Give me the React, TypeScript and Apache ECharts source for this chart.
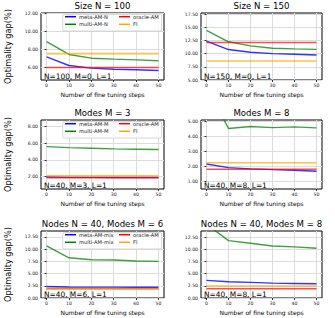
import React, { useEffect, useRef } from "react";
import * as echarts from "echarts";

const STEPS = [0, 10, 20, 30, 40, 50];
const X_TICKS = [0, 10, 20, 30, 40, 50];

// Panel 1: Size N = 100
const P1_META = [7.14, 6.18, 5.89, 5.76, 5.7, 5.63];
const P1_MULTI = [8.83, 7.4, 6.99, 6.88, 6.8, 6.7];
const P1_ORACLE = [5.95, 5.95, 5.95, 5.95, 5.95, 5.95];
const P1_FI = [7.5, 7.5, 7.5, 7.5, 7.5, 7.5];
const P1_YTICKS = [6, 8, 10, 12];

// Panel 2: Size N = 150
const P2_META = [12.37, 10.77, 10.26, 10.0, 9.87, 9.74];
const P2_MULTI = [14.42, 12.24, 11.47, 11.03, 10.9, 10.8];
const P2_ORACLE = [12.1, 12.1, 12.1, 12.1, 12.1, 12.1];
const P2_FI = [8.59, 8.59, 8.59, 8.59, 8.59, 8.59];
const P2_YTICKS = [5, 7.5, 10, 12.5, 15, 17.5];

// Panel 3: Modes M = 3
const P3_META = [1.95, 1.9, 1.9, 1.89, 1.89, 1.88];
const P3_MULTI = [5.59, 5.47, 5.4, 5.32, 5.28, 5.24];
const P3_ORACLE = [1.85, 1.85, 1.85, 1.85, 1.85, 1.85];
const P3_FI = [2.1, 2.1, 2.1, 2.1, 2.1, 2.1];
const P3_YTICKS = [2, 4, 6, 8];

// Panel 4: Modes M = 8
const P4_META = [2.15, 1.91, 1.82, 1.77, 1.73, 1.66];
const P4_MULTI = [7.4, 4.54, 4.67, 4.6, 4.65, 4.58];
const P4_ORACLE = [1.8, 1.8, 1.8, 1.8, 1.8, 1.8];
const P4_FI = [2.24, 2.24, 2.24, 2.24, 2.24, 2.24];
const P4_YTICKS = [1, 2, 3, 4, 5];

// Panel 5: Nodes N = 40, Modes M = 6
const P5_META = [2.36, 2.25, 2.23, 2.22, 2.21, 2.2];
const P5_MULTI = [10.68, 8.24, 7.84, 7.77, 7.57, 7.5];
const P5_ORACLE = [1.96, 1.96, 1.96, 1.96, 1.96, 1.96];
const P5_FI = [1.82, 1.82, 1.82, 1.82, 1.82, 1.82];
const P5_YTICKS = [0, 2.5, 5, 7.5, 10, 12.5];

// Panel 6: Nodes N = 40, Modes M = 8
const P6_META = [3.62, 3.35, 3.21, 3.07, 3.0, 2.94];
const P6_MULTI = [15.2, 11.82, 11.27, 10.72, 10.52, 10.25];
const P6_ORACLE = [1.91, 1.91, 1.91, 1.91, 1.91, 1.91];
const P6_FI = [2.46, 2.46, 2.46, 2.46, 2.46, 2.46];
const P6_YTICKS = [0, 2.5, 5, 7.5, 10, 12.5];

const TITLES = [
  "Size N = 100",
  "Size N = 150",
  "Modes M = 3",
  "Modes M = 8",
  "Nodes N = 40, Modes M = 6",
  "Nodes N = 40, Modes M = 8",
];
const NOTES = [
  "N=100, M=0, L=1",
  "N=150, M=0, L=1",
  "N=40, M=3, L=1",
  "N=40, M=8, L=1",
  "N=40, M=6, L=1",
  "N=40, M=8, L=1",
];
const META_NAMES = ["meta-AM-N", "meta-AM-N", "meta-AM-M", "meta-AM-M", "meta-AM-mix", "meta-AM-mix"];
const MULTI_NAMES = ["multi-AM-N", "multi-AM-N", "multi-AM-M", "multi-AM-M", "multi-AM-mix", "multi-AM-mix"];
const ORACLE_NAME = "oracle-AM";
const FI_NAME = "FI";
const X_NAME = "Number of fine tuning steps";
const Y_NAME = "Optimality gap(%)";

const PANELS = [
  { meta: P1_META, multi: P1_MULTI, oracle: P1_ORACLE, fi: P1_FI, ticks: P1_YTICKS, min: 4.57, max: 12.0 },
  { meta: P2_META, multi: P2_MULTI, oracle: P2_ORACLE, fi: P2_FI, ticks: P2_YTICKS, min: 5.0, max: 17.7 },
  { meta: P3_META, multi: P3_MULTI, oracle: P3_ORACLE, fi: P3_FI, ticks: P3_YTICKS, min: 0.5, max: 8.79 },
  { meta: P4_META, multi: P4_MULTI, oracle: P4_ORACLE, fi: P4_FI, ticks: P4_YTICKS, min: 0.47, max: 5.11 },
  { meta: P5_META, multi: P5_MULTI, oracle: P5_ORACLE, fi: P5_FI, ticks: P5_YTICKS, min: 0, max: 13.72 },
  { meta: P6_META, multi: P6_MULTI, oracle: P6_ORACLE, fi: P6_FI, ticks: P6_YTICKS, min: 0, max: 13.8 },
];

const FONT = "DejaVu Sans";
const COL_LEFT = [41, 201];
const COL_WIDTH = [123, 121];
const ROW_TOP = [13, 120, 231];
const ROW_HEIGHT = [67, 69, 67];

const C_META = "#0000ff";
const C_MULTI = "#008000";
const C_ORACLE = "#ff0000";
const C_FI = "#ffa500";

function buildOption() {
  const grid: any[] = [];
  const xAxis: any[] = [];
  const yAxis: any[] = [];
  const series: any[] = [];
  const title: any[] = [];
  const legend: any[] = [];
  const graphic: any[] = [];

  PANELS.forEach((p, i) => {
    const col = i % 2;
    const row = Math.floor(i / 2);
    const left = COL_LEFT[col];
    const width = COL_WIDTH[col];
    const top = ROW_TOP[row];
    const height = ROW_HEIGHT[row];
    grid.push({ left, top, width, height, show: true, borderColor: "#000", borderWidth: 1, backgroundColor: "transparent", containLabel: false });
    xAxis.push({
      type: "value",
      gridIndex: i,
      min: -2.5,
      max: 52.5,
      axisLine: { show: false },
      axisTick: { show: true, length: 2, customValues: X_TICKS, lineStyle: { color: "#000", width: 0.8 } },
      axisLabel: { customValues: X_TICKS, fontSize: 4.6, color: "#222", margin: 3, fontFamily: FONT },
      splitLine: { show: true, lineStyle: { color: "#dcdcdc", width: 1 } },
      name: X_NAME,
      nameLocation: "middle",
      nameGap: 11,
      nameTextStyle: { fontSize: 6, color: "#000", fontFamily: FONT },
    });
    yAxis.push({
      type: "value",
      gridIndex: i,
      min: p.min,
      max: p.max,
      axisLine: { show: false },
      axisTick: { show: true, length: 2, customValues: p.ticks, lineStyle: { color: "#000", width: 0.8 } },
      axisLabel: {
        customValues: p.ticks,
        fontSize: 4.6,
        color: "#222",
        margin: 3,
        fontFamily: FONT,
        formatter: (v: number) => v.toFixed(2),
      },
      splitLine: { show: true, lineStyle: { color: "#dcdcdc", width: 1 } },
      name: col === 0 ? Y_NAME : "",
      nameLocation: "middle",
      nameRotate: 90,
      nameGap: 29,
      nameTextStyle: { fontSize: 8.2, color: "#000", fontFamily: FONT },
    });
    const mk = (name: string, arr: number[], color: string, w: number, op: number) => ({
      type: "line",
      name,
      xAxisIndex: i,
      yAxisIndex: i,
      data: STEPS.map((x, k) => [x, arr[k]]),
      showSymbol: false,
      symbol: "none",
      clip: true,
      color,
      lineStyle: { color, width: w, opacity: op },
      z: 2,
    });
    series.push(mk(META_NAMES[i], p.meta, C_META, 1.4, 0.8));
    series.push(mk(MULTI_NAMES[i], p.multi, C_MULTI, 1.4, 0.75));
    series.push(mk(ORACLE_NAME, p.oracle, C_ORACLE, 1.6, 0.7));
    series.push(mk(FI_NAME, p.fi, C_FI, 1.6, 0.7));

    title.push({
      text: TITLES[i],
      left: left + width / 2,
      top: top - 12,
      textAlign: "center",
      padding: 0,
      textStyle: { fontSize: 8.6, fontWeight: "normal", color: "#000", fontFamily: FONT },
    });

    graphic.push({
      type: "text",
      x: left + 3,
      y: top + height - 3.3,
      z: 6,
      style: { text: NOTES[i], fontSize: 7.4, fill: "#000", fontFamily: FONT, verticalAlign: "middle", align: "left" },
    });

    if (col === 0) {
      graphic.push({
        type: "rect",
        z: 3,
        shape: { x: left + 21.7, y: top + 1.6, width: 99, height: 16.4, r: 1.5 },
        style: { fill: "rgba(255,255,255,0.8)", stroke: "#cccccc", lineWidth: 0.8 },
      });
      const items = [
        { name: META_NAMES[i], dx: 24, dy: 1.2 },
        { name: MULTI_NAMES[i], dx: 24, dy: 8.8 },
        { name: ORACLE_NAME, dx: 78, dy: 1.2 },
        { name: FI_NAME, dx: 78, dy: 8.8 },
      ];
      items.forEach((it) => {
        legend.push({
          data: [{ name: it.name, icon: "rect" }],
          left: left + it.dx,
          top: top + it.dy,
          padding: 0,
          itemWidth: 11,
          itemHeight: 1.5,
          itemGap: 0,
          selectedMode: false,
          z: 5,
          textStyle: { fontSize: 5.2, color: "#222", fontFamily: FONT, padding: [0, 0, 0, -2] },
        });
      });
    }
  });

  return {
    animation: false,
    backgroundColor: "#ffffff",
    textStyle: { fontFamily: FONT },
    grid,
    xAxis,
    yAxis,
    series,
    title,
    legend,
    graphic,
  };
}

export default function App() {
  const ref = useRef<HTMLDivElement>(null);
  useEffect(() => {
    if (!ref.current) return;
    const chart = echarts.init(ref.current, undefined, { renderer: "svg" });
    chart.setOption(buildOption() as any);
    return () => chart.dispose();
  }, []);
  return <div ref={ref} style={{ position: "fixed", left: 0, top: 0, width: 335, height: 318 }} />;
}
